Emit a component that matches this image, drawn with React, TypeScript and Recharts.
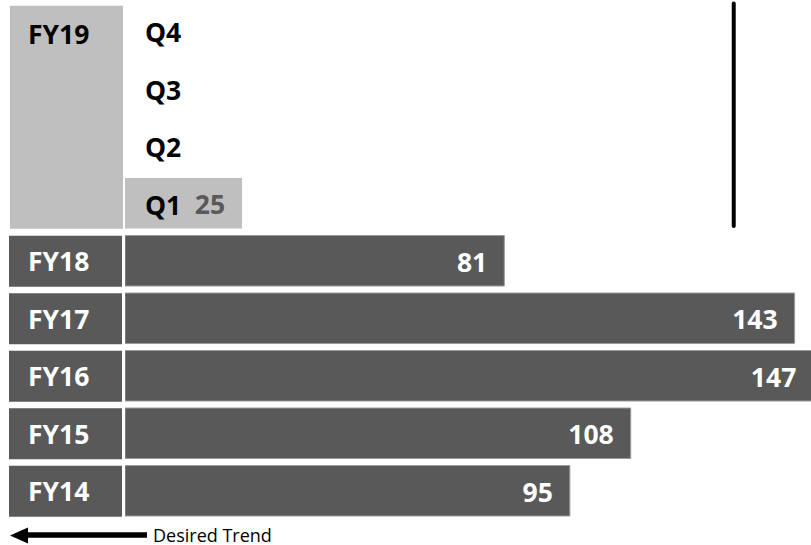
import React from 'react';
import { BarChart, Bar, XAxis, YAxis, Cell, LabelList, ReferenceLine } from 'recharts';

const categories = ['Q4', 'Q3', 'Q2', 'Q1', 'FY18', 'FY17', 'FY16', 'FY15', 'FY14'];
const values: (number | null)[] = [null, null, null, 25, 81, 143, 147, 108, 95];
const currentYear = 'FY19';
const target = 130;

const FONT = "'Open Sans', sans-serif";
const DARK = '#595959';
const LIGHT = '#bfbfbf';

const data = categories.map((name, i) => ({ name, value: values[i] }));

const isQuarter = (name: string) => name.startsWith('Q');

// 左の見出しボックス（FY19だけ四半期4行ぶんをまとめて塗る）
function CategoryTick(props: any) {
  const { y, payload } = props;
  const name: string = payload.value;
  if (isQuarter(name)) {
    return (
      <g>
        {name === 'Q4' && (
          <g>
            <rect x={10} y={y - 24.5} width={113} height={223} fill={LIGHT} />
            <text x={28} y={y + 14} fill="#000" fontFamily={FONT} fontWeight={700} fontSize={26.5}>
              {currentYear}
            </text>
          </g>
        )}
        <text x={145} y={y + 12} fill="#000" fontFamily={FONT} fontWeight={700} fontSize={26.5}>
          {name}
        </text>
      </g>
    );
  }
  return (
    <g>
      <rect x={9} y={y - 24.5} width={113} height={51} fill={DARK} />
      <text x={28} y={y + 11} fill="#fff" fontFamily={FONT} fontWeight={700} fontSize={26.5}>
        {name}
      </text>
    </g>
  );
}

// null の行は LabelList から抜けるので index ではなく値で行を引く
function ValueLabel(props: any) {
  const { x, y, width, height, value } = props;
  if (value == null) return null;
  const row = data.find((d) => d.value === value);
  const quarter = row ? isQuarter(row.name) : false;
  return (
    <text
      x={x + width - 17}
      y={y + height / 2 + 11}
      textAnchor="end"
      fill={quarter ? DARK : '#fff'}
      fontFamily={FONT}
      fontWeight={700}
      fontSize={26.5}
    >
      {value}
    </text>
  );
}

export default function App() {
  return (
    <div style={{ position: 'absolute', left: 0, top: 0, width: 811, height: 545, background: '#fff', fontFamily: FONT }}>
      <BarChart
        width={811}
        height={545}
        data={data}
        layout="vertical"
        margin={{ top: 1.5, right: 0, bottom: 26, left: 0 }}
      >
        <XAxis type="number" domain={[0, 146.5]} allowDataOverflow hide />
        <Bar dataKey="value" barSize={50.5} isAnimationActive={false}>
          {data.map((d) => (
            <Cell
              key={d.name}
              fill={isQuarter(d.name) ? LIGHT : DARK}
              stroke={isQuarter(d.name) ? 'none' : '#9a9a9a'}
              strokeWidth={1}
            />
          ))}
          <LabelList dataKey="value" content={<ValueLabel />} />
        </Bar>
        <ReferenceLine
          segment={[
            { x: target, y: 'Q4' },
            { x: target, y: 'FY18' },
          ]}
          position="start"
          ifOverflow="visible"
          shape={(p: any) => (
            <line x1={p.x1} y1={p.y1 + 2} x2={p.x2} y2={p.y2 - 5.5} stroke="#000" strokeWidth={4} strokeLinecap="round" />
          )}
        />
        <YAxis
          type="category"
          dataKey="name"
          width={125}
          axisLine={false}
          tickLine={false}
          interval={0}
          tick={<CategoryTick />}
        />
      </BarChart>
      <svg width={811} height={545} style={{ position: 'absolute', left: 0, top: 0, pointerEvents: 'none' }}>
        <line x1={26} y1={535} x2={147} y2={535} stroke="#000" strokeWidth={5.5} />
        <polygon points="10,535.5 28,527.5 28,543.5" fill="#000" />
        <text x={153} y={541.5} fill="#000" fontFamily={FONT} fontSize={18}>
          Desired Trend
        </text>
      </svg>
    </div>
  );
}
